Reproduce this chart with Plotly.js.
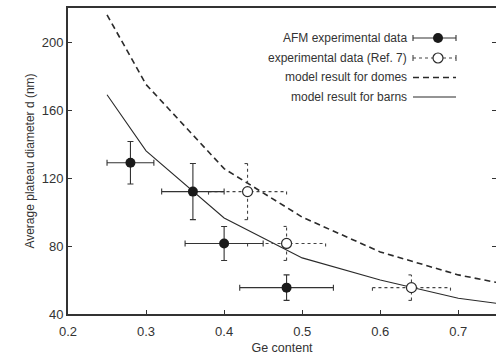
<!DOCTYPE html>
<html>
<head>
<meta charset="utf-8">
<script src="https://cdn.plot.ly/plotly-3.0.1.min.js"></script>
<style>html,body{margin:0;padding:0;background:#fff;}#chart{width:496px;height:358px;}</style>
</head>
<body>
<div id="chart"></div>
<script>
// AFM experimental data
const afmX = [0.28, 0.36, 0.40, 0.48];
const afmY = [129, 112, 81.5, 55.5];
const afmErrX = [0.03, 0.04, 0.05, 0.06];
const afmErrY = [12.5, 16.5, 10, 7.5];

// experimental data (Ref. 7)
const refX = [0.43, 0.48, 0.64];
const refY = [112, 81.5, 55.5];
const refErrX = [0.05, 0.05, 0.05];
const refErrY = [16.5, 10, 7.5];

// model results
const modelX = [0.25, 0.30, 0.40, 0.50, 0.60, 0.70, 0.75];
const domesY = [216, 175, 125.5, 97, 76.5, 63, 58.5];
const barnsY = [169, 136, 96.5, 73, 60, 49.3, 46.2];

const xTicks = [0.2, 0.3, 0.4, 0.5, 0.6, 0.7];
const xTickText = ['0.2', '0.3', '0.4', '0.5', '0.6', '0.7'];
const yTicks = [40, 80, 120, 160, 200];

const legendLabels = ['AFM experimental data', 'experimental data (Ref. 7)',
  'model result for domes', 'model result for barns'];

// plot geometry (pixels)
const W = 496, H = 358, ML = 68, MR = 0, MT = 8, MB = 44;
const PW = W - ML - MR, PH = H - MT - MB;
const xRange = [0.2, 0.2 + PW / 780.6];
const yRange = [40, 220];
const pxPerX = PW / (xRange[1] - xRange[0]);
const pxPerY = PH / (yRange[1] - yRange[0]);
const capX = 3 / pxPerX, capY = 3 / pxPerY;

// dotted error bars for Ref. 7 built from the data arrays
const ebx = [], eby = [];
refX.forEach((x, i) => {
  const y = refY[i], ex = refErrX[i], ey = refErrY[i];
  ebx.push(x - ex, x + ex, null); eby.push(y, y, null);
  ebx.push(x, x, null); eby.push(y - ey, y + ey, null);
  ebx.push(x - ex, x - ex, null); eby.push(y - capY, y + capY, null);
  ebx.push(x + ex, x + ex, null); eby.push(y - capY, y + capY, null);
  ebx.push(x - capX, x + capX, null); eby.push(y - ey, y - ey, null);
  ebx.push(x - capX, x + capX, null); eby.push(y + ey, y + ey, null);
});

const ink = '#2a2a2a';
const traces = [
  {x: modelX, y: domesY, mode: 'lines', line: {color: ink, width: 1.6, dash: '6px,4px'}, hoverinfo: 'skip'},
  {x: modelX, y: barnsY, mode: 'lines', line: {color: ink, width: 1.1}, hoverinfo: 'skip'},
  {x: ebx, y: eby, mode: 'lines', line: {color: '#444', width: 1.1, dash: '3px,3px'}, hoverinfo: 'skip'},
  {x: refX, y: refY, mode: 'markers', marker: {symbol: 'circle', size: 10, color: '#fff', line: {color: ink, width: 1.2}}},
  {x: afmX, y: afmY, mode: 'markers', marker: {symbol: 'circle', size: 10, color: '#1a1a1a'},
   error_x: {type: 'data', array: afmErrX, visible: true, color: '#333', thickness: 1.1, width: 3},
   error_y: {type: 'data', array: afmErrY, visible: true, color: '#333', thickness: 1.1, width: 3}}
];

// legend drawn with annotations and shapes (paper coords)
const px = v => (v - ML) / PW;
const py = v => 1 - (v - MT) / PH;
const rows = [38, 58, 77.5, 97];
const textRight = 409, keyL = 413, keyR = 456, keyC = 438;
const annotations = legendLabels.map((t, i) => ({
  xref: 'paper', yref: 'paper', x: px(textRight), y: py(rows[i]),
  xanchor: 'right', yanchor: 'middle', text: t, showarrow: false,
  font: {family: 'Liberation Sans, Arial, sans-serif', size: 12, color: '#333'}
}));
const shapes = [];
// row 1: solid bar with caps and filled circle
shapes.push({type: 'line', xref: 'paper', yref: 'paper', x0: px(keyL), x1: px(keyR), y0: py(rows[0]), y1: py(rows[0]), line: {color: '#333', width: 1.1}});
shapes.push({type: 'line', xref: 'paper', yref: 'paper', x0: px(keyL), x1: px(keyL), y0: py(rows[0] - 3), y1: py(rows[0] + 3), line: {color: '#333', width: 1.1}});
shapes.push({type: 'line', xref: 'paper', yref: 'paper', x0: px(keyR), x1: px(keyR), y0: py(rows[0] - 3), y1: py(rows[0] + 3), line: {color: '#333', width: 1.1}});
shapes.push({type: 'circle', xref: 'paper', yref: 'paper', x0: px(keyC - 5), x1: px(keyC + 5), y0: py(rows[0] - 5), y1: py(rows[0] + 5), fillcolor: '#1a1a1a', line: {color: '#1a1a1a', width: 0}});
// row 2: dotted bar with caps and open circle
shapes.push({type: 'line', xref: 'paper', yref: 'paper', x0: px(keyL), x1: px(keyR), y0: py(rows[1]), y1: py(rows[1]), line: {color: '#444', width: 1.1, dash: '3px,3px'}});
shapes.push({type: 'line', xref: 'paper', yref: 'paper', x0: px(keyL), x1: px(keyL), y0: py(rows[1] - 3), y1: py(rows[1] + 3), line: {color: '#444', width: 1.1}});
shapes.push({type: 'line', xref: 'paper', yref: 'paper', x0: px(keyR), x1: px(keyR), y0: py(rows[1] - 3), y1: py(rows[1] + 3), line: {color: '#444', width: 1.1}});
shapes.push({type: 'circle', xref: 'paper', yref: 'paper', x0: px(keyC - 5), x1: px(keyC + 5), y0: py(rows[1] - 5), y1: py(rows[1] + 5), fillcolor: '#fff', line: {color: ink, width: 1.2}});
// row 3: dashed
shapes.push({type: 'line', xref: 'paper', yref: 'paper', x0: px(keyL), x1: px(keyR), y0: py(rows[2]), y1: py(rows[2]), line: {color: ink, width: 1.6, dash: '6px,4px'}});
// row 4: solid
shapes.push({type: 'line', xref: 'paper', yref: 'paper', x0: px(keyL), x1: px(keyR), y0: py(rows[3]), y1: py(rows[3]), line: {color: ink, width: 1.1}});

const font = {family: 'Liberation Sans, Arial, sans-serif', size: 13, color: '#333'};
const layout = {
  width: W, height: H,
  margin: {l: ML, r: MR, t: MT, b: MB, pad: 0},
  paper_bgcolor: '#fff', plot_bgcolor: '#fff',
  showlegend: false,
  font: font,
  xaxis: {
    range: xRange, tickvals: xTicks, ticktext: xTickText,
    ticks: 'inside', ticklen: 4, tickwidth: 1, tickcolor: '#333',
    showline: true, linecolor: '#333', linewidth: 2, mirror: true,
    showgrid: false, zeroline: false, tickfont: font, ticklabelstandoff: 4,
    title: {text: 'Ge content', font: {family: font.family, size: 12.5, color: '#333'}, standoff: 6}
  },
  yaxis: {
    range: yRange, tickvals: yTicks,
    ticks: 'inside', ticklen: 4, tickwidth: 1, tickcolor: '#333',
    showline: true, linecolor: '#333', linewidth: 2, mirror: 'ticks',
    showgrid: false, zeroline: false, tickfont: font,
    title: {text: 'Average plateau diameter d (nm)', font: {family: font.family, size: 12, color: '#333'}, standoff: 4}
  },
  annotations: annotations,
  shapes: shapes
};
Plotly.newPlot('chart', traces, layout, {staticPlot: true, displayModeBar: false});
</script>
</body>
</html>
